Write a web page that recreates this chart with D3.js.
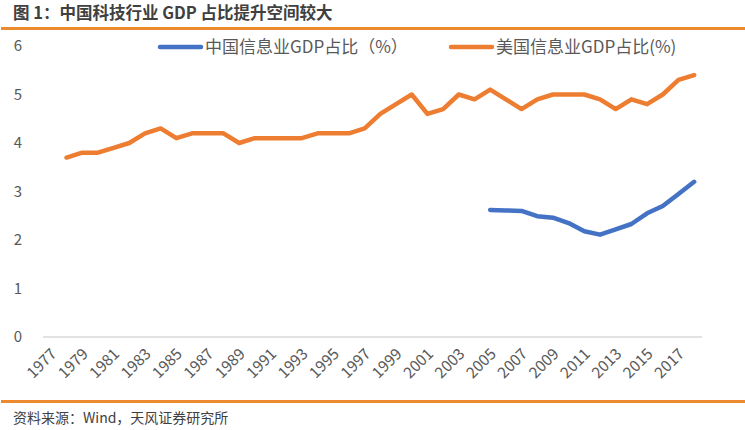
<!DOCTYPE html>
<html>
<head>
<meta charset="utf-8">
<script src="https://cdn.jsdelivr.net/npm/d3@7"></script>
<style>
  body { margin: 0; background: #fff; }
  text { font-family: "Noto Sans CJK SC", "Noto Sans", sans-serif; }
</style>
</head>
<body>
<script>
// données
const annees = [1977, 1978, 1979, 1980, 1981, 1982, 1983, 1984, 1985, 1986,
  1987, 1988, 1989, 1990, 1991, 1992, 1993, 1994, 1995, 1996,
  1997, 1998, 1999, 2000, 2001, 2002, 2003, 2004, 2005, 2006,
  2007, 2008, 2009, 2010, 2011, 2012, 2013, 2014, 2015, 2016,
  2017, 2018];

const usInfo = [null, 3.7, 3.8, 3.8, 3.9, 4.0, 4.2, 4.3, 4.1, 4.2,
  4.2, 4.2, 4.0, 4.1, 4.1, 4.1, 4.1, 4.2, 4.2, 4.2,
  4.3, 4.6, 4.8, 5.0, 4.6, 4.7, 5.0, 4.9, 5.1, 4.9,
  4.7, 4.9, 5.0, 5.0, 5.0, 4.9, 4.7, 4.9, 4.8, 5.0,
  5.3, 5.4];

const cnInfo = [null, null, null, null, null, null, null, null, null, null,
  null, null, null, null, null, null, null, null, null, null,
  null, null, null, null, null, null, null, null, 2.62, 2.61,
  2.6, 2.49, 2.46, 2.35, 2.18, 2.11, 2.22, 2.33, 2.55, 2.7,
  2.95, 3.2];

const yTicks = [0, 1, 2, 3, 4, 5, 6];
const xLabels = annees.filter((d, i) => i % 2 === 0);

const titre = "图 1：中国科技行业 GDP 占比提升空间较大";
const source = "资料来源：Wind，天风证券研究所";
const series = [
  { nom: "中国信息业GDP占比（%）", valeurs: cnInfo, couleur: "#4472C4" },
  { nom: "美国信息业GDP占比(%)", valeurs: usInfo, couleur: "#ED7D31" }
];

const W = 745, H = 430;
const margin = { top: 46, right: 43, bottom: 93, left: 43 };

const svg = d3.select("body").append("svg")
  .attr("width", W)
  .attr("height", H);

// titre + filets orange
svg.append("text")
  .text(titre)
  .attr("x", 13)
  .attr("y", 19)
  .style("font-size", "16.5px")
  .style("font-weight", "bold")
  .style("fill", "#404040");

svg.append("rect").attr("x", 1).attr("y", 27).attr("width", W - 1).attr("height", 3).attr("fill", "#EE8A2E");
svg.append("rect").attr("x", 1).attr("y", 400).attr("width", W - 1).attr("height", 3).attr("fill", "#EE8A2E");

svg.append("text")
  .text(source)
  .attr("x", 13)
  .attr("y", 423)
  .style("font-size", "14px")
  .style("fill", "#404040");

// échelles
let x = d3.scaleBand()
  .domain(annees)
  .range([margin.left, W - margin.right])
  .padding(0);

let y = d3.scaleLinear()
  .domain([0, 6])
  .range([H - margin.bottom, margin.top]);

const cx = d => x(d) + x.bandwidth() / 2;

// axe X
svg.append("line")
  .attr("x1", margin.left).attr("x2", W - margin.right)
  .attr("y1", y(0)).attr("y2", y(0))
  .attr("stroke", "#d9d9d9")
  .attr("stroke-width", 1.3);

svg.selectAll(".xlab")
  .data(xLabels)
  .enter()
  .append("text")
  .attr("class", "xlab")
  .text(d => d)
  .attr("text-anchor", "end")
  .attr("transform", d => "translate(" + (cx(d) + 3) + "," + (y(0) + 14) + ") rotate(-45)")
  .attr("dy", "0.35em")
  .style("font-size", "15.5px")
  .style("fill", "#595959");

// axe Y (labels seulement)
svg.selectAll(".ylab")
  .data(yTicks)
  .enter()
  .append("text")
  .attr("class", "ylab")
  .text(d => d)
  .attr("x", 22)
  .attr("y", d => y(d))
  .attr("dy", "0.35em")
  .attr("text-anchor", "end")
  .style("font-size", "15px")
  .style("fill", "#595959");

// courbes
const ligne = d3.line()
  .defined(d => d.v !== null)
  .x(d => cx(d.annee))
  .y(d => y(d.v));

series.forEach(s => {
  svg.append("path")
    .datum(annees.map((a, i) => ({ annee: a, v: s.valeurs[i] })))
    .attr("d", ligne)
    .attr("fill", "none")
    .attr("stroke", s.couleur)
    .attr("stroke-width", 4.5)
    .attr("stroke-linejoin", "round")
    .attr("stroke-linecap", "round");
});

// légende
const legX = [160, 451];
series.forEach((s, i) => {
  svg.append("line")
    .attr("x1", legX[i]).attr("x2", legX[i] + 41)
    .attr("y1", 47).attr("y2", 47)
    .attr("stroke", s.couleur)
    .attr("stroke-width", 4.5)
    .attr("stroke-linecap", "round");
  svg.append("text")
    .text(s.nom)
    .attr("x", legX[i] + 45)
    .attr("y", 47)
    .attr("dy", "0.36em")
    .style("font-size", "17px")
    .style("fill", "#595959");
});
</script>
</body>
</html>
